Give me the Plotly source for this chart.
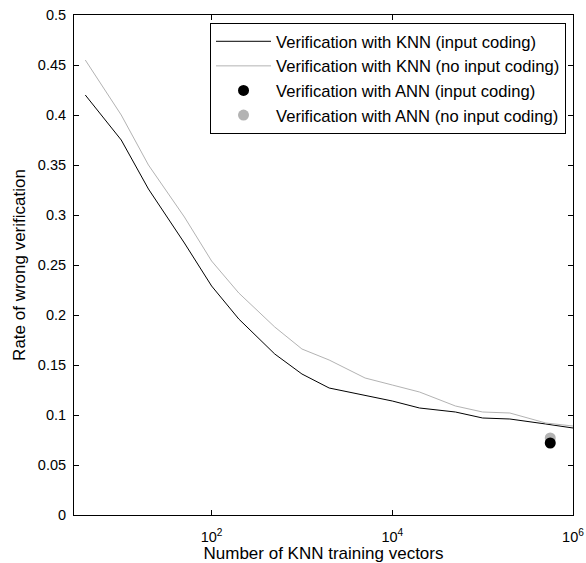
import plotly.graph_objects as go

# Data
knn_x = [4, 10, 20, 50, 100, 200, 500, 1000, 2000, 5000, 10000, 20000, 50000,
         100000, 200000, 500000, 1000000]
knn_coding = [0.42, 0.375, 0.326, 0.272, 0.229, 0.196, 0.161, 0.141, 0.127, 0.12,
              0.114, 0.107, 0.103, 0.097, 0.096, 0.091, 0.087]
knn_nocoding = [0.455, 0.40, 0.35, 0.298, 0.254, 0.222, 0.188, 0.166, 0.155, 0.137,
                0.13, 0.123, 0.109, 0.103, 0.102, 0.092, 0.089]
ann_x = [560000]
ann_coding = [0.072]
ann_nocoding = [0.077]

names = ["Verification with KNN (input coding)",
         "Verification with KNN (no input coding)",
         "Verification with ANN (input coding)",
         "Verification with ANN (no input coding)"]

x_tickvals = [100, 10000, 1000000]
x_ticktext = ["10<sup>2</sup>", "10<sup>4</sup>", "10<sup>6</sup>"]
y_tickvals = [0, 0.05, 0.1, 0.15, 0.2, 0.25, 0.3, 0.35, 0.4, 0.45, 0.5]
y_ticktext = ["0", "0.05", "0.1", "0.15", "0.2", "0.25", "0.3", "0.35", "0.4", "0.45", "0.5"]

GRAY = "#b3b3b3"
FONT = "Liberation Sans, Arial, sans-serif"

fig = go.Figure()
fig.add_trace(go.Scatter(x=knn_x, y=knn_coding, mode="lines", name=names[0],
                         line=dict(color="black", width=1)))
fig.add_trace(go.Scatter(x=knn_x, y=knn_nocoding, mode="lines", name=names[1],
                         line=dict(color=GRAY, width=1)))
fig.add_trace(go.Scatter(x=ann_x, y=ann_nocoding, mode="markers", name=names[3],
                         marker=dict(color=GRAY, size=11), showlegend=False))
fig.add_trace(go.Scatter(x=ann_x, y=ann_coding, mode="markers", name=names[2],
                         marker=dict(color="black", size=11)))
# legend entry for the gray ANN point, kept in the reference's order
fig.add_trace(go.Scatter(x=[None], y=[None], mode="markers", name=names[3],
                         marker=dict(color=GRAY, size=11)))

fig.update_layout(
    width=586, height=563,
    margin=dict(l=74, r=13, t=15, b=48, autoexpand=False),
    paper_bgcolor="white", plot_bgcolor="white",
    font=dict(family=FONT, size=14, color="black"),
    legend=dict(x=0.986, y=0.984, xanchor="right", yanchor="top",
                bordercolor="black", borderwidth=1, bgcolor="white",
                font=dict(size=16.6), tracegroupgap=0, itemwidth=55),
    showlegend=True,
)
fig.update_xaxes(type="log", range=[0.4771, 6], tickvals=x_tickvals, ticktext=x_ticktext,
                 ticks="inside", ticklen=5, tickcolor="black", showline=True, linecolor="black",
                 linewidth=1, mirror="ticks", showgrid=False, zeroline=False,
                 tickfont=dict(size=14.5), ticklabelstandoff=9,
                 title=dict(text="Number of KNN training vectors", font=dict(size=17), standoff=7))
fig.update_yaxes(range=[0, 0.5], tickvals=y_tickvals, ticktext=y_ticktext,
                 ticks="inside", ticklen=5, tickcolor="black", showline=True, linecolor="black",
                 linewidth=1, mirror="ticks", showgrid=False, zeroline=False,
                 tickfont=dict(size=14.5), ticklabelstandoff=4,
                 title=dict(text="Rate of wrong verification", font=dict(size=17), standoff=7))

fig.write_html("out.html",
               config={"displayModeBar": False},
               post_script=("document.body.style.margin='0';"
                            "document.body.style.overflow='hidden';"))
